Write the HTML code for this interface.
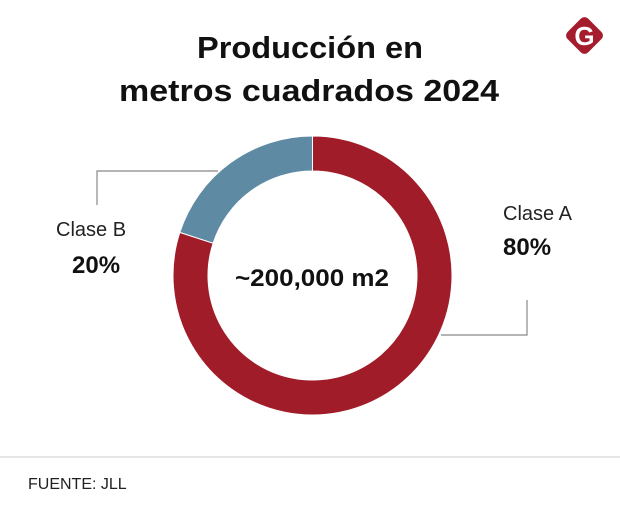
<!DOCTYPE html>
<html><head><meta charset="utf-8"><style>
body{margin:0;width:620px;height:518px;background:#fff;overflow:hidden;font-family:"Liberation Sans",sans-serif}
</style></head><body>
<svg width="620" height="518">
<text x="310" y="58" text-anchor="middle" font-size="31" font-weight="bold" fill="#111" textLength="226" lengthAdjust="spacingAndGlyphs">Producción en</text>
<text x="309" y="101" text-anchor="middle" font-size="31" font-weight="bold" fill="#111" textLength="380" lengthAdjust="spacingAndGlyphs">metros cuadrados 2024</text>
<g>
<rect x="570" y="21" width="29" height="29" rx="5" fill="#a51d2d" transform="rotate(45 584.5 35.5)"/>
<text x="584.5" y="45" text-anchor="middle" font-size="26" font-weight="bold" fill="#fff">G</text>
</g>
<g id="slices"></g>
<text x="312" y="286" text-anchor="middle" font-size="24" font-weight="bold" fill="#111" textLength="154" lengthAdjust="spacingAndGlyphs">~200,000 m2</text>
<polyline points="218,171 97,171 97,205" fill="none" stroke="#888" stroke-width="1.2"/>
<polyline points="441,335 527,335 527,300" fill="none" stroke="#888" stroke-width="1.2"/>
<text x="56" y="236" font-size="20" fill="#222">Clase B</text>
<text x="72" y="273" font-size="24" font-weight="bold" fill="#111">20%</text>
<text x="503" y="220" font-size="20" fill="#222">Clase A</text>
<text x="503" y="255" font-size="24" font-weight="bold" fill="#111">80%</text>
<line x1="0" y1="457" x2="620" y2="457" stroke="#ccc" stroke-width="1"/>
<text x="28" y="489" font-size="16" fill="#222">FUENTE: JLL</text>
</svg>
<script>
const categories=["Clase A","Clase B"];
const values=[80,20];
const colors=["#a01c28","#5e8aa3"];
const cx=312.5,cy=275.5,R=139.5,r=104.5;
const g=document.getElementById('slices');
const total=values.reduce((a,b)=>a+b,0);
let a0=0;
function pt(rad,a){return [cx+rad*Math.sin(a),cy-rad*Math.cos(a)];}
values.forEach((v,i)=>{
  const a1=a0+v/total*2*Math.PI;
  const large=(a1-a0)>Math.PI?1:0;
  const p1=pt(R,a0),p2=pt(R,a1),p3=pt(r,a1),p4=pt(r,a0);
  const p=document.createElementNS('http://www.w3.org/2000/svg','path');
  p.setAttribute('d',`M${p1}A${R},${R} 0 ${large} 1 ${p2}L${p3}A${r},${r} 0 ${large} 0 ${p4}Z`);
  p.setAttribute('fill',colors[i]);
  p.setAttribute('stroke','#fff');
  p.setAttribute('stroke-width','1');
  
  
  g.appendChild(p);
  a0=a1;
});
</script>
</body></html>
